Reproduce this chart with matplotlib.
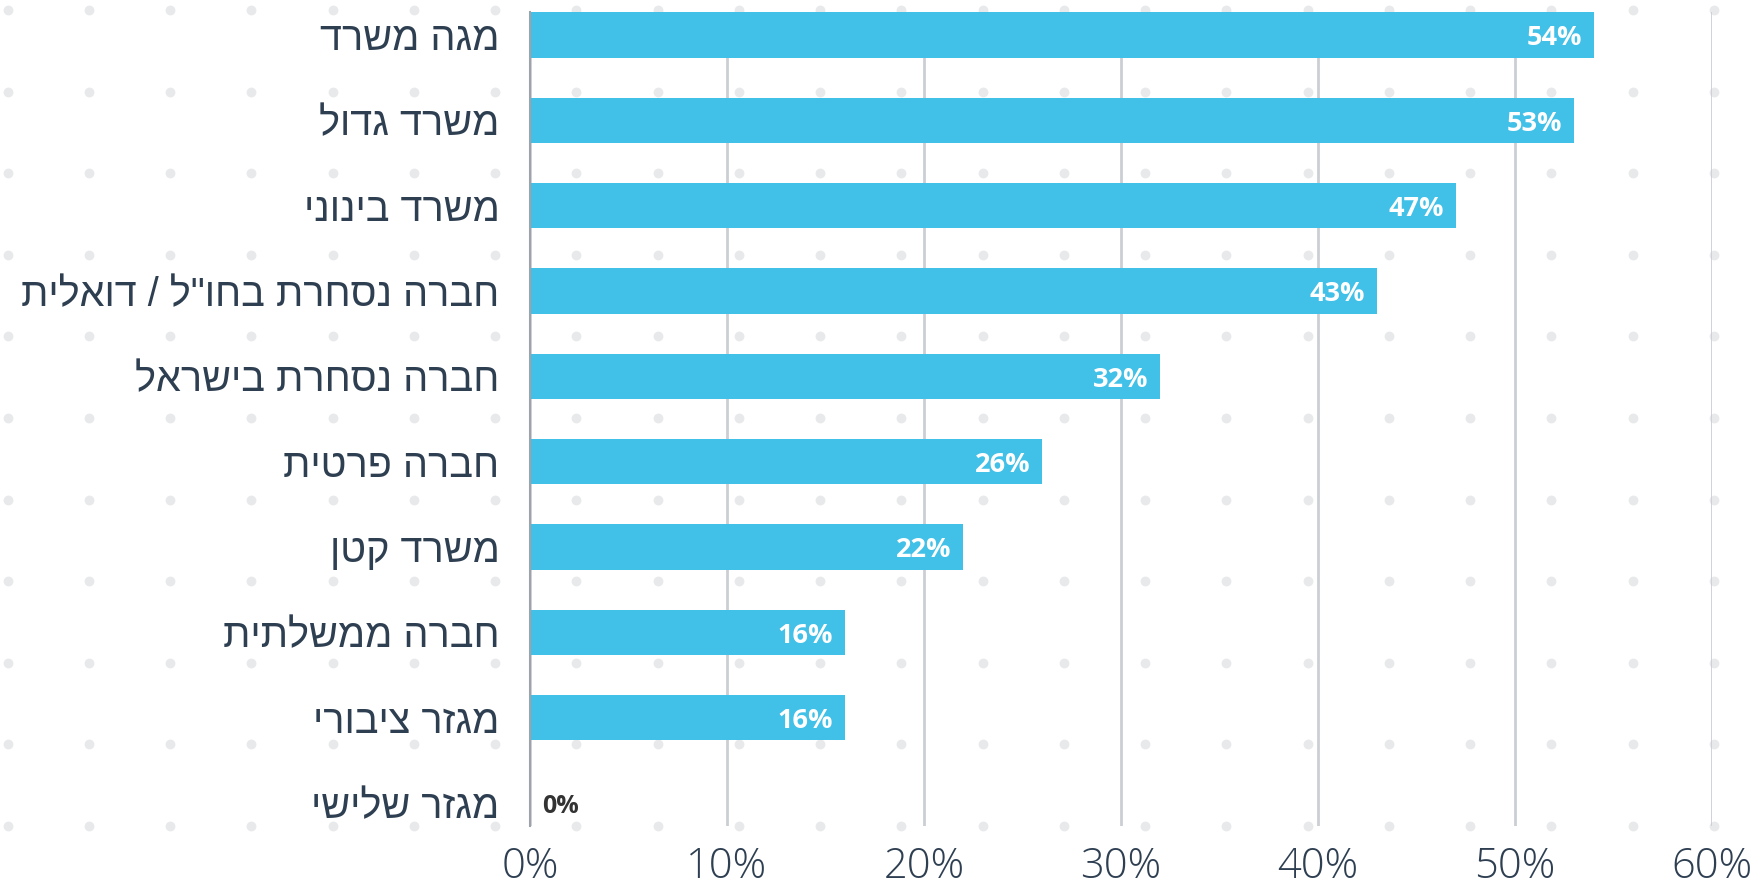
import numpy as np
import matplotlib.pyplot as plt
from matplotlib import ticker

# data (categories in logical Hebrew order, top to bottom)
categories = ['מגה משרד', 'משרד גדול', 'משרד בינוני', 'חברה נסחרת בחו"ל / דואלית',
              'חברה נסחרת בישראל', 'חברה פרטית', 'משרד קטן', 'חברה ממשלתית',
              'מגזר ציבורי', 'מגזר שלישי']
values = [54, 53, 47, 43, 32, 26, 22, 16, 16, 0]
xticks = [0, 10, 20, 30, 40, 50, 60]

bar_color = '#41C0E8'
text_color = '#2E3F52'
grid_color = '#CBCED3'
dot_color = '#E8E9EB'

plt.rcParams['font.family'] = ['Open Sans', 'DejaVu Sans']
hebrew_family = ['Liberation Sans', 'DejaVu Sans']

W, H = 1757, 889
fig = plt.figure(figsize=(W / 100, H / 100), dpi=100)

# dotted background pattern, in pixel coordinates
bg = fig.add_axes([0, 0, 1, 1], zorder=0)
bg.set_xlim(0, W)
bg.set_ylim(H, 0)
bg.axis('off')
dx = 7.5 + 81.25 * np.arange(22)
dy = 10 + 81.6 * np.arange(11)
gx, gy = np.meshgrid(dx, dy)
bg.scatter(gx.ravel(), gy.ravel(), s=50, color=dot_color, linewidths=0)

ax = fig.add_axes([530 / W, 1 - 826 / H, (1712 - 530) / W, (826 - 12) / H], zorder=1)
ax.patch.set_alpha(0)

y = np.arange(len(categories))
ax.barh(y, values, height=0.53, color=bar_color, zorder=3)
ax.set_ylim(len(categories) - 1 + 0.27, -0.27)
ax.set_xlim(0, 60)

# matplotlib has no bidi support, so Hebrew strings are reversed for display
ax.set_yticks(y)
ax.set_yticklabels([c[::-1] for c in categories], fontsize=28.5, color=text_color,
                   family=hebrew_family)
ax.set_xticks(xticks)
ax.xaxis.set_major_formatter(ticker.FuncFormatter(lambda v, p: f'{v:.0f}%'))
for lab in ax.get_xticklabels():
    lab.set_fontsize(30)
    lab.set_color(text_color)
    lab.set_fontweight('light')
ax.tick_params(axis='y', length=0, pad=22)
ax.tick_params(axis='x', length=0, pad=14)

ax.grid(axis='x', color=grid_color, linewidth=2, zorder=1)
for s in ['top', 'right', 'bottom']:
    ax.spines[s].set_visible(False)
ax.spines['left'].set_color('#9EA3AA')
ax.spines['left'].set_linewidth(1.5)
ax.spines['left'].set_zorder(4)

for yi, v in zip(y, values):
    if v > 0:
        ax.text(v - 0.6, yi + 0.04, f'{v}%', ha='right', va='center', color='white',
                fontsize=19.5, fontweight='bold', zorder=5)
    else:
        ax.text(0.6, yi + 0.04, f'{v}%', ha='left', va='center', color='#333333',
                fontsize=18, fontweight='bold', zorder=5)

fig.savefig('out.png', dpi=100)
